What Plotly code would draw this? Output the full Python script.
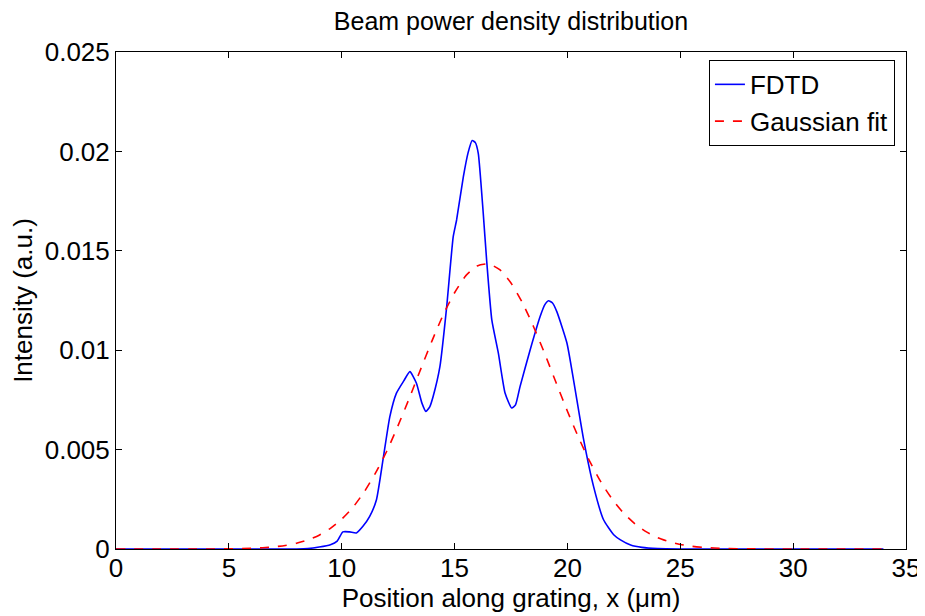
import plotly.graph_objects as go

# FDTD simulated intensity
fdtd_x = [0, 2, 4, 6, 8, 8.5, 9.0, 9.5, 9.8, 10.05, 10.35, 10.65, 10.94, 11.24, 11.54, 11.83,
          12.13, 12.42, 12.75, 13.02, 13.31, 13.55, 13.73, 13.9, 14.05, 14.35, 14.65, 14.94,
          15.09, 15.39, 15.6, 15.78, 15.92, 16.05, 16.27, 16.42, 16.65, 16.94, 17.24, 17.53,
          17.7, 17.9, 18.35, 18.79, 19.0, 19.16, 19.33, 19.53, 19.98, 20.27, 20.72, 21.16,
          21.6, 22.05, 22.35, 22.8, 23.3, 24.0, 25, 27, 30, 34]
fdtd_y = [0, 0, 0, 0, 0, 0.00002, 0.0001, 0.00022, 0.0004, 0.00086, 0.00086, 0.00081, 0.00114,
          0.00164, 0.00248, 0.00449, 0.00665, 0.00783, 0.00846, 0.00892, 0.00834, 0.00735,
          0.00692, 0.00715, 0.00767, 0.00917, 0.01218, 0.01571, 0.01655, 0.01873, 0.01994,
          0.02055, 0.02044, 0.0199, 0.01689, 0.01454, 0.01152, 0.00985, 0.00783, 0.00709,
          0.00725, 0.00817, 0.01002, 0.01169, 0.01229, 0.01249, 0.01239, 0.01194, 0.01035,
          0.00851, 0.00549, 0.00314, 0.00147, 0.00072, 0.00046, 0.0002, 0.00008, 0.00002,
          0, 0, 0, 0]

# Gaussian fit curve
fit_x = [0, 2, 4, 5, 6, 6.5, 7, 7.5, 8, 8.5, 9, 9.5, 10, 10.5, 11, 11.5, 12, 12.5, 13, 13.5,
         14, 14.5, 15, 15.5, 16, 16.5, 17, 17.5, 18, 18.5, 19, 19.5, 20, 20.5, 21, 21.5, 22,
         22.5, 23, 23.5, 24, 24.5, 25, 25.5, 26, 26.5, 27, 28, 30, 34]
fit_y = [0, 0, 0, 0.00001, 0.000036, 0.000063, 0.000108, 0.000179, 0.00029, 0.000456,
         0.000695, 0.00104, 0.0015, 0.0021, 0.00288, 0.00383, 0.00493, 0.00622, 0.0076,
         0.00905, 0.01047, 0.01179, 0.01289, 0.01375, 0.01424, 0.01434, 0.01405, 0.01338,
         0.0124, 0.01118, 0.00981, 0.00836, 0.00693, 0.00559, 0.00438, 0.00334, 0.00248,
         0.00179, 0.00126, 0.00086, 0.00057, 0.00037, 0.00023, 0.00014, 0.000085, 0.000048,
         0.000028, 0.000008, 0, 0]

x_ticks = [0, 5, 10, 15, 20, 25, 30, 35]
y_ticks = [0, 0.005, 0.01, 0.015, 0.02, 0.025]
y_tick_text = ["0", "0.005", "0.01", "0.015", "0.02", "0.025"]

FONT = "Liberation Sans, Arial, sans-serif"

fig = go.Figure()
fig.add_trace(go.Scatter(x=fdtd_x, y=fdtd_y, mode="lines", name="FDTD",
                         line=dict(color="#0000ff", width=1.6, shape="spline", smoothing=0.5)))
fig.add_trace(go.Scatter(x=fit_x, y=fit_y, mode="lines", name="Gaussian fit",
                         line=dict(color="#ff0000", width=1.6, dash="dash", shape="spline",
                                   smoothing=0.6)))

axis_common = dict(showgrid=False, zeroline=False, showline=True, linecolor="black",
                   linewidth=1, mirror="ticks", ticks="inside", ticklen=6,
                   tickcolor="black", automargin=False,
                   tickfont=dict(family=FONT, size=26, color="black"))

# page body has an 8px default margin, so the figure is sized to fit the window
fig.update_layout(
    width=917, height=608,
    paper_bgcolor="white", plot_bgcolor="white",
    margin=dict(l=108, r=19, t=44, b=67),
    title=dict(text="Beam power density distribution", x=0.5, xanchor="center",
               xref="paper", yref="container", y=0.979, yanchor="middle",
               font=dict(family=FONT, size=25, color="black")),
    xaxis=dict(range=[0, 35], tickvals=x_ticks, ticktext=[str(v) for v in x_ticks],
               ticklabelstandoff=-4,
               title=dict(text="Position along grating, x (μm)", standoff=0,
                          font=dict(family=FONT, size=26, color="black")),
               **axis_common),
    yaxis=dict(range=[0, 0.025], tickvals=y_ticks, ticktext=y_tick_text,
               title=dict(text="Intensity (a.u.)", standoff=6,
                          font=dict(family=FONT, size=26, color="black")),
               **axis_common),
    legend=dict(x=0.986, y=0.984, xanchor="right", yanchor="top", bgcolor="white",
                bordercolor="black", borderwidth=1,
                font=dict(family=FONT, size=26, color="black"), tracegroupgap=0),
    showlegend=True,
)

fig.write_html("out.html")
